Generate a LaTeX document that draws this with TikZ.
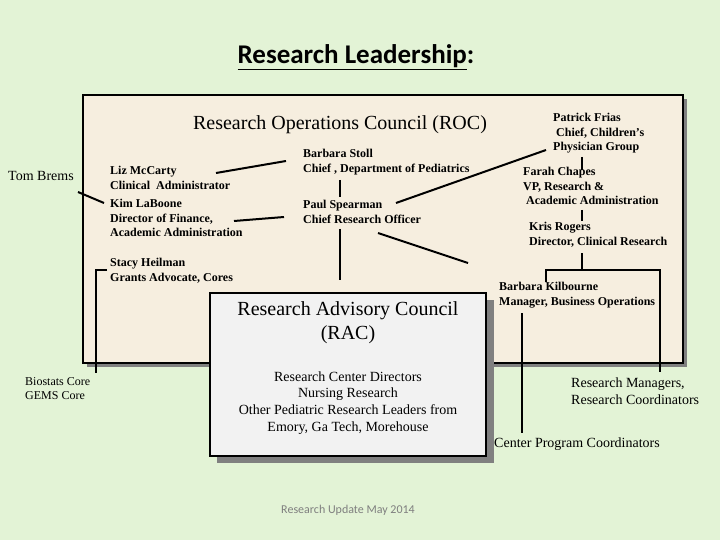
\documentclass[tikz,border=0pt]{standalone}
\usepackage{fontspec}
\setmainfont{Liberation Serif}
\newfontfamily\calibri{Carlito}
\definecolor{slidebg}{HTML}{E3F3D6}
\definecolor{rocfill}{HTML}{F6EEDF}
\definecolor{racfill}{HTML}{F2F2F2}
\definecolor{footgray}{HTML}{7F7F7F}
\tikzset{
  person/.style={anchor=north west, align=left, inner sep=0pt,
    font=\bfseries\fontsize{12}{14.5}\selectfont},
  group/.style={anchor=north west, align=left, inner sep=0pt,
    font=\fontsize{14}{17}\selectfont},
  council/.style={align=center, inner sep=0pt,
    font=\fontsize{20}{24}\selectfont},
  link/.style={line width=2pt},
}
\begin{document}
\begin{tikzpicture}[x=1pt,y=-1pt]
\fill [slidebg] (0,0) rectangle (720,540);
\useasboundingbox (0,0) rectangle (720,540);
\node (title) at (356,57) {\calibri\bfseries\fontsize{27}{30}\selectfont\underline{Research Leadership}:};
% ROC panel
\fill [gray] (87,99) rectangle (687,367);
\draw [line width=2.5pt, fill=rocfill] (83,95) rectangle (683,363);
\node [council] (roc) at (340,125) {Research Operations Council (ROC)};
\node [group] (tom) at (8,171) {Tom Brems};
\node [person] (liz) at (110,166) {Liz McCarty\\Clinical\ \ Administrator};
\node [person] (kim) at (110,199) {Kim LaBoone\\Director of Finance,\\Academic Administration};
\node [person] (stacy) at (110,258) {Stacy Heilman\\Grants Advocate, Cores};
\node [person] (stoll) at (303,149) {Barbara Stoll\\Chief , Department of Pediatrics};
\node [person] (spearman) at (303,200) {Paul Spearman\\Chief Research Officer};
\node [person] (frias) at (553,113) {Patrick Frias\\\ Chief, Children's\\Physician Group};
\node [person] (chapes) at (523,167) {Farah Chapes\\VP, Research \&\\\ Academic Administration};
\node [person] (rogers) at (529,222) {Kris Rogers\\Director, Clinical Research};
\node [person] (kilbourne) at (499,282) {Barbara Kilbourne\\Manager, Business Operations};
% links
\coordinate (tomA) at (78,192);   \coordinate (tomB) at (104,203);
\coordinate (lizA) at (216,173);  \coordinate (lizB) at (286,161);
\coordinate (kimA) at (234,221);  \coordinate (kimB) at (284,217);
\coordinate (stollA) at (340,180); \coordinate (stollB) at (340,197);
\coordinate (paulA) at (340,229); \coordinate (paulB) at (340,280);
\coordinate (friasA) at (396,203); \coordinate (friasB) at (546,150);
\coordinate (kilA) at (378,233);  \coordinate (kilB) at (468,263);
\coordinate (chapA) at (582,157); \coordinate (chapB) at (582,170);
\coordinate (rogA) at (582,210);  \coordinate (rogB) at (582,221);
\coordinate (mgrA) at (582,253);  \coordinate (mgrB) at (582,270);
\coordinate (mgrL) at (546,282);  \coordinate (mgrR) at (660,372);
\coordinate (stacyA) at (107,270); \coordinate (stacyB) at (96,373);
\coordinate (cpcA) at (522,313);  \coordinate (cpcB) at (522,433);
\draw [link] (tomA) -- (tomB);
\draw [link] (lizA) -- (lizB);
\draw [link] (kimA) -- (kimB);
\draw [link] (stollA) -- (stollB);
\draw [link] (paulA) -- (paulB);
\draw [link] (friasA) -- (friasB);
\draw [link] (kilA) -- (kilB);
\draw [link] (chapA) -- (chapB);
\draw [link] (rogA) -- (rogB);
\draw [link] (mgrA) -- (mgrB);
\draw [link] (mgrL) |- (mgrB) -| (mgrR);
\draw [link] (stacyA) -| (stacyB);
\draw [link] (cpcA) -- (cpcB);
% RAC panel
\fill [gray] (217,300) rectangle (494,463);
\draw [line width=2.5pt, fill=racfill] (210,293) rectangle (486,456);
\node [council] (rac) at (348,323) {Research Advisory Council\\(RAC)};
\node [council, font=\fontsize{14}{16.7}\selectfont] (racmembers) at (348,403)
  {Research Center Directors\\Nursing Research\\Other Pediatric Research Leaders from\\Emory, Ga Tech, Morehouse};
\node [group, font=\fontsize{12}{14}\selectfont] (cores) at (25,377) {Biostats Core\\GEMS Core};
\node [group] (managers) at (571,378) {Research Managers,\\Research Coordinators};
\node [group] (cpc) at (494,438) {Center Program Coordinators};
\node [text=footgray, font=\calibri\fontsize{12}{14}\selectfont] (footer) at (348,510) {Research Update May 2014};
\end{tikzpicture}
\end{document}
